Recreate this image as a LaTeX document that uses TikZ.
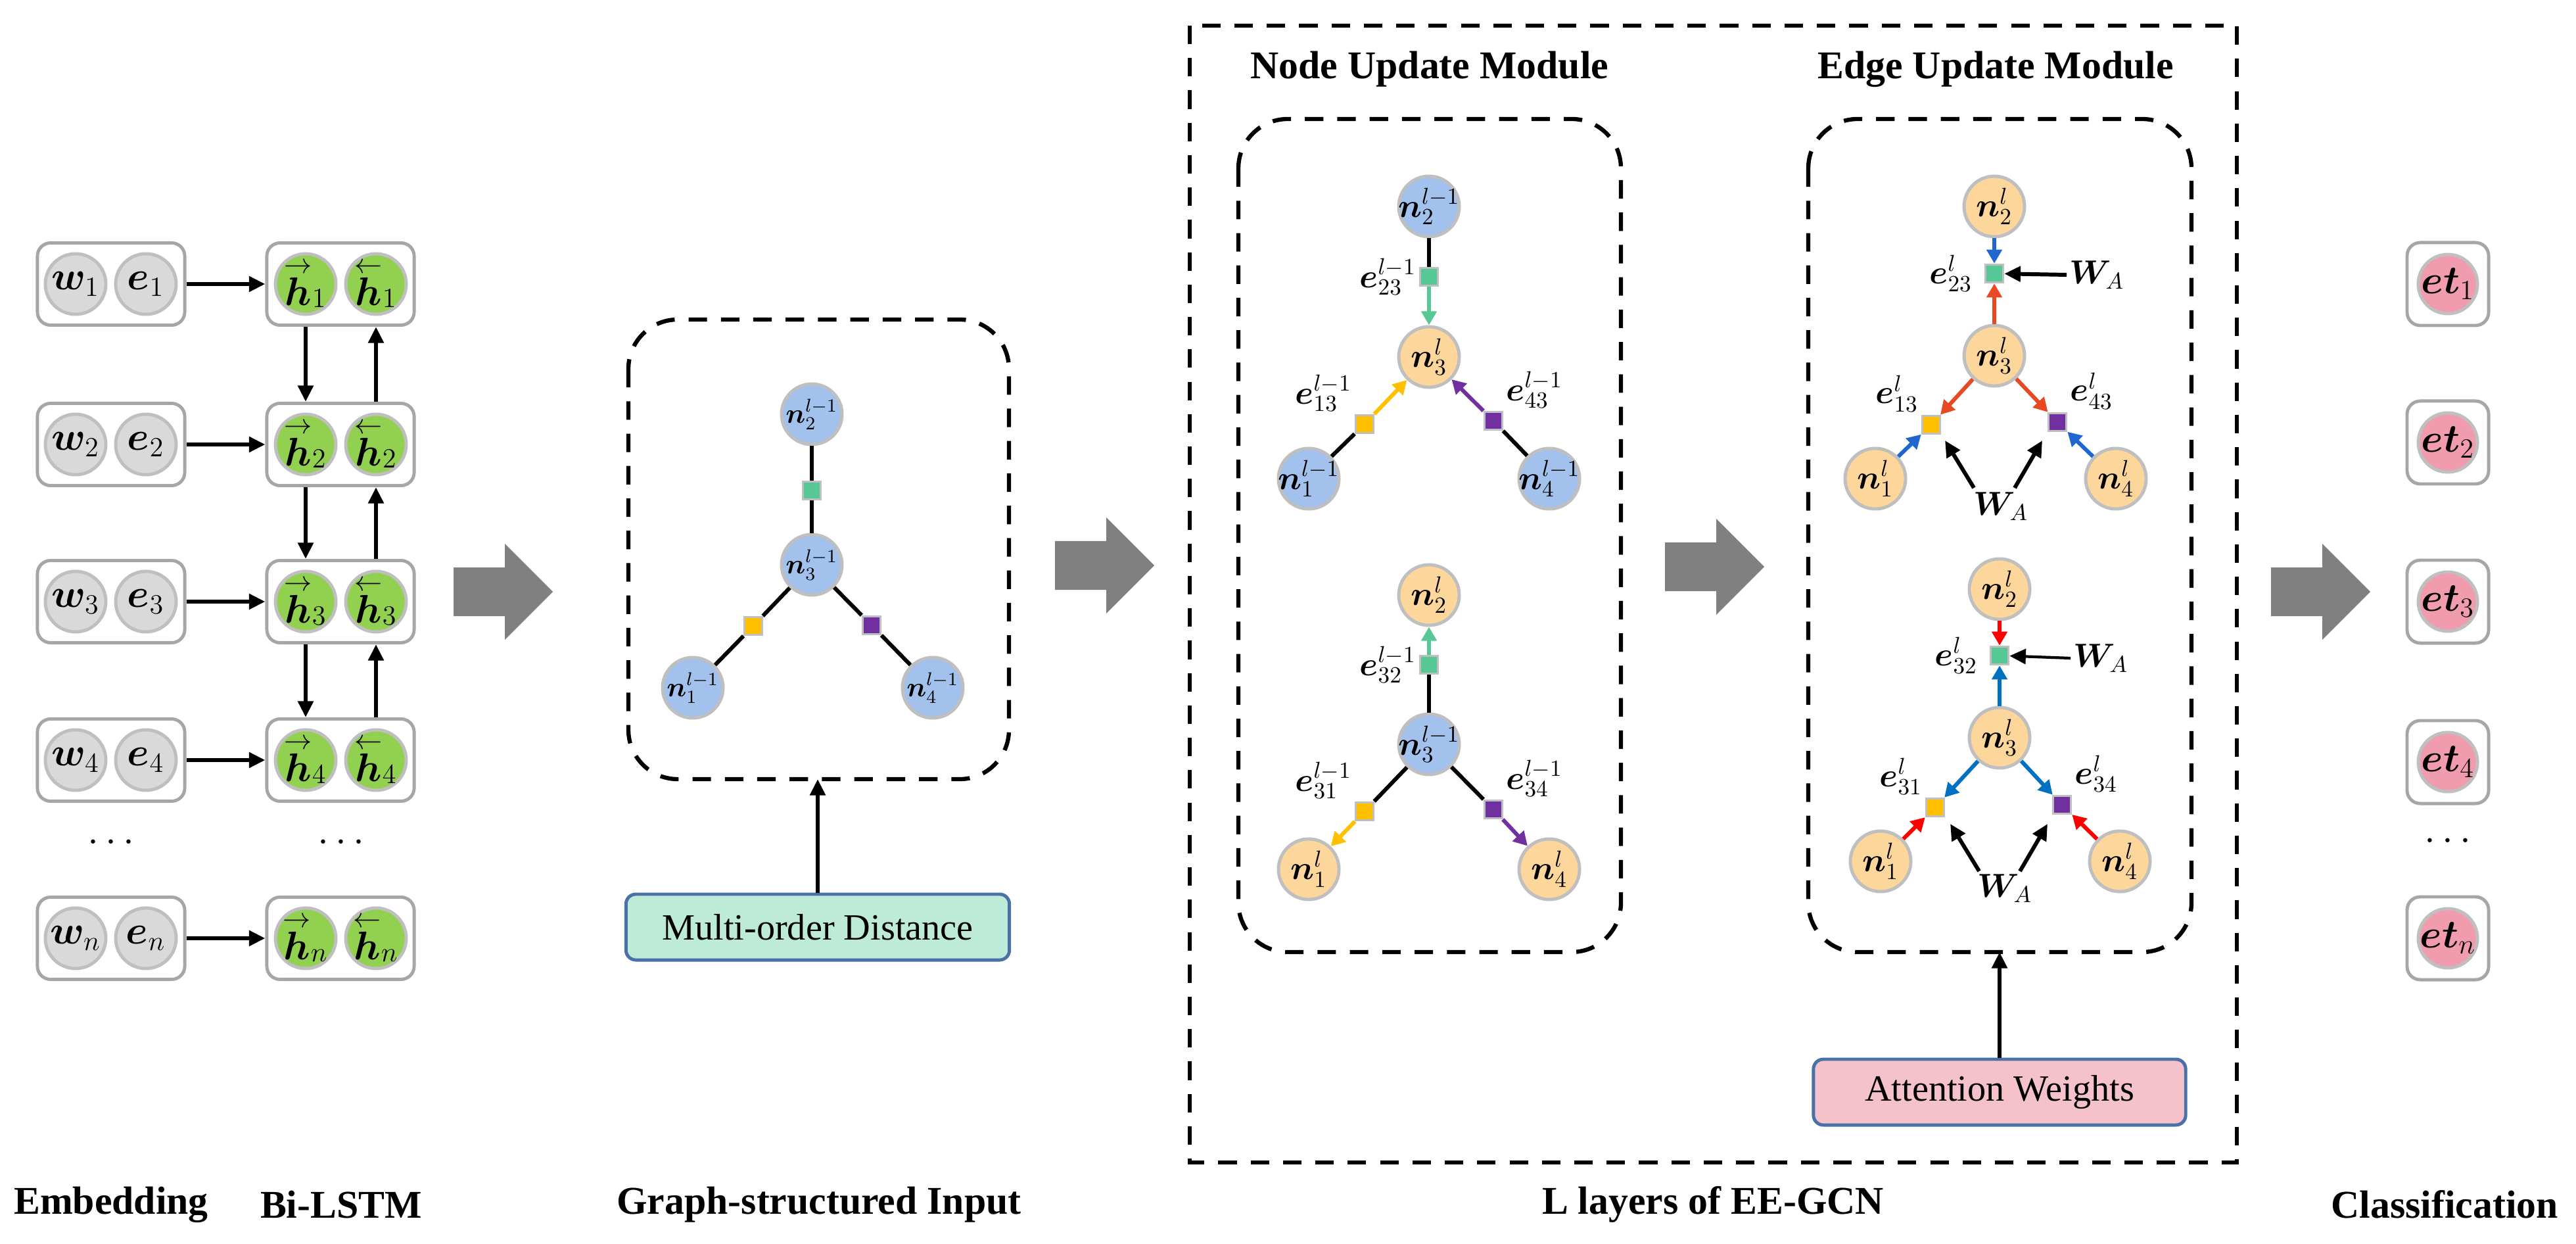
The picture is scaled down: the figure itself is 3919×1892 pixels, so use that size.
\documentclass[tikz,border=0pt]{standalone}
\usepackage{fontspec}
\usepackage{bm}
\setmainfont{Liberation Serif}
\usetikzlibrary{arrows.meta,calc}
\definecolor{cgray}{HTML}{D9D9D9}
\definecolor{cbord}{HTML}{BFBFBF}
\definecolor{cbox}{HTML}{A6A6A6}
\definecolor{cgreen}{HTML}{92D050}
\definecolor{cblue}{HTML}{A3C1ED}
\definecolor{corange}{HTML}{FDD69C}
\definecolor{cpink}{HTML}{F19CAE}
\definecolor{sqgreen}{HTML}{55C895}
\definecolor{sqyellow}{HTML}{FFC000}
\definecolor{sqpurple}{HTML}{7030A0}
\definecolor{ablue}{HTML}{1F66D1}
\definecolor{ared}{HTML}{E84822}
\definecolor{bred}{HTML}{FF0000}
\definecolor{bblue}{HTML}{0070C0}
\definecolor{mfill}{HTML}{BDEBD8}
\definecolor{afill}{HTML}{F5C1CB}
\definecolor{bborder}{HTML}{4A70A8}
\definecolor{garrow}{HTML}{808080}
\tikzset{
  circ/.style={circle,draw=cbord,line width=1.4pt,minimum size=0.92cm,inner sep=0pt,
     label={[font=\fontsize{17}{19}\selectfont,inner sep=0pt]center:#1}},
  gcirc/.style={circ={#1},fill=cgray},
  hcirc/.style={circ={#1},fill=cgreen},
  bcirc/.style={circle,draw=cbord,line width=1.4pt,minimum size=0.92cm,inner sep=0pt,fill=cblue,
     label={[font=\fontsize{14}{16}\selectfont,inner sep=0pt]center:#1}},
  scirc/.style={circle,draw=cbord,line width=1.4pt,minimum size=0.92cm,inner sep=0pt,fill=cblue,
     label={[font=\fontsize{12}{14}\selectfont,inner sep=0pt]center:#1}},
  ocirc/.style={circle,draw=cbord,line width=1.4pt,minimum size=0.92cm,inner sep=0pt,fill=corange,
     label={[font=\fontsize{14}{16}\selectfont,inner sep=0pt]center:#1}},
  pcirc/.style={circ={#1},fill=cpink,minimum size=0.9cm},
  rbox/.style={draw=cbox,line width=1.4pt,rounded corners=0.2cm,minimum width=2.24cm,minimum height=1.25cm},
  sq/.style={draw=cbord,line width=1pt,minimum size=0.27cm,inner sep=0pt},
  arr/.style={line width=1.7pt,-{Triangle[width=6.5pt,length=7pt]}},
  carr/.style={line width=1.7pt,-{Triangle[width=6.5pt,length=6pt]}},
  lin/.style={line width=1.7pt},
  dbox/.style={draw,line width=1.8pt,dash pattern=on 8pt off 6pt},
  lab/.style={font=\fontsize{14}{16}\selectfont,inner sep=1pt},
  title/.style={font=\bfseries\fontsize{17}{20}\selectfont},
  infobox/.style={draw=bborder,line width=1.4pt,rounded corners=0.15cm,font=\fontsize{16}{18}\selectfont}
}
\begin{document}
\begin{tikzpicture}[x=0.01cm,y=-0.01cm]
\useasboundingbox (0,0) rectangle (3919,1892);
% ---- embedding & Bi-LSTM
\foreach \i/\y in {1/432,2/676,3/915,4/1156,n/1427}{
  \node[rbox] (eb\i) at (169,\y) {};
  \node[gcirc={$\bm{w}_{\i}$}] (w\i) at (115,\y) {};
  \node[gcirc={$\bm{e}_{\i}$}] (e\i) at (222,\y) {};
  \node[rbox] (hb\i) at (518,\y) {};
  \node[hcirc={$\stackrel{\rightarrow}{\bm{h}}_{\i}$}] (hf\i) at (465,\y) {};
  \node[hcirc={$\stackrel{\leftarrow}{\bm{h}}_{\i}$}] (hr\i) at (572,\y) {};
  \draw[arr] (eb\i) -- (hb\i);
}
\foreach \i/\j in {1/2,2/3,3/4}{
  \draw[arr] (hb\i.south -| hf\i) -- (hb\j.north -| hf\i);
  \draw[arr] (hb\j.north -| hr\i) -- (hb\i.south -| hr\i);
}
\node[font=\fontsize{17}{19}\selectfont] (d1) at (169,1282) {$\cdots$};
\node[font=\fontsize{17}{19}\selectfont] (d2) at (519,1282) {$\cdots$};
% ---- block arrows
\foreach \x/\y in {690/900,1605/860,2533/862,3455/900}{
  \fill[garrow] (\x,\y) ++(0,-37) -- ++(78,0) -- ++(0,-36) -- ++(73,73) -- ++(-73,73) -- ++(0,-36) -- ++(-78,0) -- cycle;
}
% ---- graph-structured input
\draw[dbox,rounded corners=0.75cm] (956,486) rectangle (1535,1185);
\node[coordinate] (gbot) at (1244,1185) {};
\node[scirc={$\bm{n}_2^{l-1}$}] (g2) at (1235,630) {};
\node[scirc={$\bm{n}_3^{l-1}$}] (g3) at (1235,859) {};
\node[scirc={$\bm{n}_1^{l-1}$}] (g1) at (1054,1046) {};
\node[scirc={$\bm{n}_4^{l-1}$}] (g4) at (1419,1046) {};
\node[sq,fill=sqgreen] (gs2) at (1235,746) {};
\node[sq,fill=sqyellow] (gs1) at (1146,952) {};
\node[sq,fill=sqpurple] (gs4) at (1326,951) {};
\draw[lin] (g2) -- (gs2) -- (g3);
\draw[lin] (g3) -- (gs1) -- (g1);
\draw[lin] (g3) -- (gs4) -- (g4);
\node[infobox,fill=mfill,minimum width=5.83cm,minimum height=1cm] (md) at (1244,1410) {Multi-order Distance};
\draw[arr] (md.north) -- (gbot);
% ---- big L-layer box
\draw[dbox] (1810,39) rectangle (3403,1768);
\node[title] (tn) at (2175,105) {Node Update Module};
\node[title] (te) at (3036,105) {Edge Update Module};
\draw[dbox,rounded corners=0.75cm] (1884,181) rectangle (2466,1448);
\draw[dbox,rounded corners=0.75cm] (2751,181) rectangle (3334,1448);
% node update top
\node[bcirc={$\bm{n}_2^{l-1}$}] (a2) at (2174,314) {};
\node[ocirc={$\bm{n}_3^{l}$}] (a3) at (2174,543) {};
\node[bcirc={$\bm{n}_1^{l-1}$}] (a1) at (1991,728) {};
\node[bcirc={$\bm{n}_4^{l-1}$}] (a4) at (2357,728) {};
\node[sq,fill=sqgreen,label={[lab]left:$\bm{e}_{23}^{l-1}$}] (as2) at (2174,421) {};
\node[sq,fill=sqyellow,label={[lab]above left:$\bm{e}_{13}^{l-1}$}] (as1) at (2076,645) {};
\node[sq,fill=sqpurple,label={[lab]above right:$\bm{e}_{43}^{l-1}$}] (as4) at (2272,640) {};
\draw[lin] (a2) -- (as2);
\draw[lin] (a1) -- (as1);
\draw[lin] (a4) -- (as4);
\draw[carr,sqgreen] (as2) -- (a3);
\draw[carr,sqyellow] (as1) -- (a3);
\draw[carr,sqpurple] (as4) -- (a3);
% node update bottom
\node[ocirc={$\bm{n}_2^{l}$}] (b2) at (2174,905) {};
\node[bcirc={$\bm{n}_3^{l-1}$}] (b3) at (2174,1132) {};
\node[ocirc={$\bm{n}_1^{l}$}] (b1) at (1991,1322) {};
\node[ocirc={$\bm{n}_4^{l}$}] (b4) at (2357,1322) {};
\node[sq,fill=sqgreen,label={[lab]left:$\bm{e}_{32}^{l-1}$}] (bs2) at (2174,1011) {};
\node[sq,fill=sqyellow,label={[lab]above left:$\bm{e}_{31}^{l-1}$}] (bs1) at (2076,1234) {};
\node[sq,fill=sqpurple,label={[lab]above right:$\bm{e}_{34}^{l-1}$}] (bs4) at (2272,1231) {};
\draw[lin] (b3) -- (bs2);
\draw[lin] (b3) -- (bs1);
\draw[lin] (b3) -- (bs4);
\draw[carr,sqgreen] (bs2) -- (b2);
\draw[carr,sqyellow] (bs1) -- (b1);
\draw[carr,sqpurple] (bs4) -- (b4);
% edge update top
\node[ocirc={$\bm{n}_2^{l}$}] (c2) at (3034,314) {};
\node[ocirc={$\bm{n}_3^{l}$}] (c3) at (3034,541) {};
\node[ocirc={$\bm{n}_1^{l}$}] (c1) at (2853,728) {};
\node[ocirc={$\bm{n}_4^{l}$}] (c4) at (3219,728) {};
\node[sq,fill=sqgreen,label={[lab,xshift=-4pt]left:$\bm{e}_{23}^{l}$}] (cs2) at (3034,416) {};
\node[sq,fill=sqyellow,label={[lab]above left:$\bm{e}_{13}^{l}$}] (cs1) at (2938,646) {};
\node[sq,fill=sqpurple,label={[lab]above right:$\bm{e}_{43}^{l}$}] (cs4) at (3130,642) {};
\draw[carr,ablue] (c2) -- (cs2);
\draw[carr,ared] (c3) -- (cs2);
\draw[carr,ared] (c3) -- (cs1);
\draw[carr,ared] (c3) -- (cs4);
\draw[carr,ablue] (c1) -- (cs1);
\draw[carr,ablue] (c4) -- (cs4);
\node[lab] (cwr) at (3190,418) {$\bm{W}_{A}$};
\node[lab] (cwb) at (3044,770) {$\bm{W}_{A}$};
\coordinate (cw1s) at (3003,742); \coordinate (cw1e) at (2959,670);
\coordinate (cw2s) at (3065,742); \coordinate (cw2e) at (3107,670);
\draw[arr] (cwr.west) -- (cs2);
\draw[arr] (cw1s) -- (cw1e);
\draw[arr] (cw2s) -- (cw2e);
% edge update bottom
\node[ocirc={$\bm{n}_2^{l}$}] (f2) at (3042,896) {};
\node[ocirc={$\bm{n}_3^{l}$}] (f3) at (3042,1122) {};
\node[ocirc={$\bm{n}_1^{l}$}] (f1) at (2861,1310) {};
\node[ocirc={$\bm{n}_4^{l}$}] (f4) at (3225,1310) {};
\node[sq,fill=sqgreen,label={[lab,xshift=-4pt]left:$\bm{e}_{32}^{l}$}] (fs2) at (3042,997) {};
\node[sq,fill=sqyellow,label={[lab]above left:$\bm{e}_{31}^{l}$}] (fs1) at (2944,1228) {};
\node[sq,fill=sqpurple,label={[lab]above right:$\bm{e}_{34}^{l}$}] (fs4) at (3137,1224) {};
\draw[carr,bred] (f2) -- (fs2);
\draw[carr,bblue] (f3) -- (fs2);
\draw[carr,bblue] (f3) -- (fs1);
\draw[carr,bblue] (f3) -- (fs4);
\draw[carr,bred] (f1) -- (fs1);
\draw[carr,bred] (f4) -- (fs4);
\node[lab] (fwr) at (3196,1001) {$\bm{W}_{A}$};
\node[lab] (fwb) at (3050,1351) {$\bm{W}_{A}$};
\coordinate (fw1s) at (3011,1325); \coordinate (fw1e) at (2967,1253);
\coordinate (fw2s) at (3073,1325); \coordinate (fw2e) at (3115,1253);
\draw[arr,line width=1.2pt] (fwr.west) -- (fs2);
\draw[arr] (fw1s) -- (fw1e);
\draw[arr] (fw2s) -- (fw2e);
% attention
\node[infobox,fill=afill,minimum width=5.66cm,minimum height=1cm] (aw) at (3042,1661) {Attention Weights};
\coordinate (ebot) at (3042,1448);
\draw[arr] (aw.north) -- (ebot);
% ---- classification
\foreach \i/\y in {1/432,2/673,3/915,4/1159,n/1427}{
  \node[rbox,minimum width=1.24cm,minimum height=1.26cm] (tb\i) at (3724,\y) {};
  \node[pcirc={$\bm{et}_{\i}$}] (t\i) at (3724,\y) {};
}
\node[font=\fontsize{17}{19}\selectfont] (d3) at (3724,1280) {$\cdots$};
% ---- bottom labels
\node[title] at (169,1832) {Embedding};
\node[title] at (519,1832) {Bi-LSTM};
\node[title] at (1246,1832) {Graph-structured Input};
\node[title] at (2606,1832) {L layers of EE-GCN};
\node[title] at (3719,1832) {Classification};
\end{tikzpicture}
\end{document}
